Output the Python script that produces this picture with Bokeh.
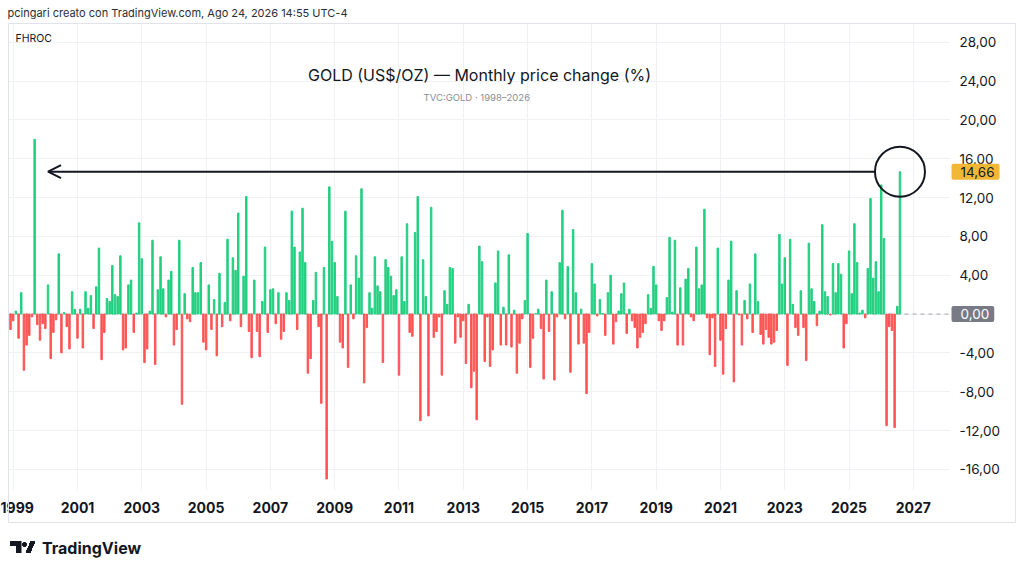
from bokeh.plotting import figure
from bokeh.models import (Range1d, FixedTicker, Label, Span, Arrow, OpenHead,
                          ColumnDataSource, InlineStyleSheet)
from bokeh.embed import file_html
from bokeh.resources import INLINE

# ---------------- data: monthly % change of gold -------------
chg_1998 = [-1.6]  # December only
chg_1999 = [-0.7, 0.3, -2.5, 2.2, -5.8, -3.2, -2.2, -0.3, 18.0, -1.1, -2.7, -1.0]
chg_2000 = [-1.5, 3.0, -4.6, -1.9, -0.6, 6.2, -4.0, 0.15, -1.3, -3.6, 2.3, 0.5]
chg_2001 = [-2.5, 0.5, -3.5, 2.3, 0.6, 1.9, -1.5, 2.8, 6.8, -4.7, -1.9, 1.6]
chg_2002 = [1.3, 5.0, 2.0, 1.8, 6.0, -3.7, -3.5, 3.0, 3.5, -1.9, 0.1, 9.4]
chg_2003 = [5.7, -5.0, -3.6, 0.3, 7.6, -5.2, 2.5, 5.9, 2.6, -0.3, 3.5, 4.4]
chg_2004 = [-3.2, -1.6, 7.6, -9.3, 2.1, -0.5, -0.8, 4.8, 2.2, 2.2, 5.3, -2.9]
chg_2005 = [-3.7, 3.0, -1.6, 1.5, -4.3, 4.2, -1.3, 1.2, 7.7, -0.7, 5.8, 4.5]
chg_2006 = [10.4, -1.3, 3.9, 12.1, -1.8, -4.5, 3.5, -1.8, -4.4, 1.3, 6.9, -1.9]
chg_2007 = [2.5, 2.6, -1.0, 2.2, -2.6, -1.8, 2.2, 1.4, 10.6, 6.9, -1.6, 6.4]
chg_2008 = [10.9, 5.3, -6.1, -4.6, 1.4, 4.3, -1.3, -9.2, 4.8, -17.0, 13.1, 7.5]
chg_2009 = [5.3, 1.8, -2.9, -3.5, 10.6, -5.5, 3.0, -0.5, 6.0, 3.7, 12.9, -7.1]
chg_2010 = [-1.4, 2.2, 0.6, 5.9, 2.9, 2.3, -5.0, 5.6, 4.8, 3.9, 1.9, 2.5]
chg_2011 = [-6.3, 5.9, 1.3, 9.3, -1.9, -2.3, 8.4, 12.1, -11.0, 5.6, 1.8, -10.5]
chg_2012 = [11.0, -2.4, -1.8, -0.3, -6.3, 2.4, 1.0, 4.8, 4.7, -3.0, -0.3, -2.4]
chg_2013 = [-0.7, -5.1, 1.0, -7.6, -5.9, -10.9, 7.0, 5.4, -4.9, -0.3, -5.4, -3.7]
chg_2014 = [3.2, 6.5, -3.2, 0.7, -3.2, 6.1, -3.4, 0.4, -6.1, -3.0, -0.5, 1.4]
chg_2015 = [8.3, -5.5, -2.5, 0.05, 0.5, -1.5, -6.7, 3.5, -1.8, 2.3, -6.8, -0.3]
chg_2016 = [5.3, 10.7, -0.5, 4.9, -6.0, 8.7, 2.2, -3.1, 0.5, -3.0, -8.2, -1.9]
chg_2017 = [5.2, 3.1, -0.2, 1.5, 0.05, -2.2, 2.2, 4.0, -3.1, -0.8, 0.3, 2.1]
chg_2018 = [3.2, -2.0, 0.5, -0.7, -1.4, -3.5, -2.4, -1.9, -1.0, 2.0, 0.6, 4.9]
chg_2019 = [3.0, -0.7, -1.7, -0.7, 1.7, 7.9, 0.2, 7.6, -3.2, 2.7, -3.2, 3.6]
chg_2020 = [4.7, -0.3, -0.7, 6.9, 2.6, 3.0, 10.8, -0.4, -4.2, -0.4, -5.4, 6.8]
chg_2021 = [-2.7, -6.2, -1.5, 3.5, 7.5, -7.0, 2.4, -0.1, -3.2, 1.4, -0.5, 3.1]
chg_2022 = [-1.9, 6.2, 1.3, -2.1, -3.1, -1.6, -2.4, -3.1, -2.9, -1.7, 8.2, 3.1]
chg_2023 = [5.8, -5.3, 7.7, 1.0, -1.4, -2.2, 2.4, -1.4, -4.8, 7.3, 2.6, 1.3]
chg_2024 = [-1.2, 0.3, 9.2, 2.3, 1.8, -0.1, 5.2, 2.2, 5.2, 4.1, -3.5, -1.0]
chg_2025 = [6.5, 2.1, 9.3, 5.3, 0.1, 0.4, -0.4, 4.7, 11.9, 3.7, 5.4, 2.3]
chg_2026 = [13.3, 7.8, -11.5, -1.3, -1.7, -11.7, 0.8, 14.66]  # Jan..Aug

years = list(range(1999, 2027))
yearly = [chg_1999, chg_2000, chg_2001, chg_2002, chg_2003, chg_2004, chg_2005,
          chg_2006, chg_2007, chg_2008, chg_2009, chg_2010, chg_2011, chg_2012,
          chg_2013, chg_2014, chg_2015, chg_2016, chg_2017, chg_2018, chg_2019,
          chg_2020, chg_2021, chg_2022, chg_2023, chg_2024, chg_2025, chg_2026]

tick_years = list(range(1999, 2028, 2))
y_ticks = list(range(-16, 29, 4))

last_label = "14,66"
zero_label = "0,00"

# months counted from Jan 1999 (= 0); Dec 1998 = -1
months = [-1] + [12 * (y - 1999) + i for y, vals in zip(years, yearly) for i in range(len(vals))]
values = chg_1998 + [v for vals in yearly for v in vals]

GREEN = "#22cf80"
RED = "#ff5454"
TXT = "#131722"
colors = [GREEN if v >= 0 else RED for v in values]

# ---------------- figure geometry (page pixels) ----------------
W, H = 1024, 574
FRAME_L, FRAME_R, FRAME_T, FRAME_B = 8, 950, 23, 490
X0, X1 = -1.754, 349.86
Y0, Y1 = -18.18, 29.93
PXM = (FRAME_R - FRAME_L) / (X1 - X0)
PXU = (FRAME_B - FRAME_T) / (Y1 - Y0)


def dx(px):
    return X0 + (px - FRAME_L) / PXM


def dy(py):
    return Y0 + (FRAME_B - py) / PXU


# outer chart box and TradingView logo mark (page decoration, drawn with CSS)
deco = InlineStyleSheet(css="""
:host::after {
  content: ""; position: absolute; left: 8px; top: 23px; width: 1006px; height: 498px;
  border: 1px solid #e0e3eb; pointer-events: none; z-index: 5;
}
:host::before {
  content: ""; position: absolute; left: 10px; top: 541px; width: 26px; height: 12px;
  pointer-events: none; z-index: 5;
  background:
    linear-gradient(#131722, #131722) 0px 0px / 11px 5px no-repeat,
    linear-gradient(#131722, #131722) 5.5px 0px / 5.5px 12px no-repeat,
    radial-gradient(circle at 2.5px 2.5px, #131722 2.2px, transparent 2.6px) 12px 0.5px / 5px 5px no-repeat,
    linear-gradient(112.6deg, transparent 34%, #131722 34%, #131722 66%, transparent 66%) 15px 0px / 11px 12px no-repeat;
}
""")

p = figure(width=W, height=H, output_backend="svg", toolbar_location=None, title=None,
           x_range=Range1d(X0, X1), y_range=Range1d(Y0, Y1), y_axis_location="right",
           min_border_left=FRAME_L, min_border_right=W - FRAME_R,
           min_border_top=FRAME_T, min_border_bottom=H - FRAME_B,
           stylesheets=[deco])
p.outline_line_color = None
p.background_fill_color = "white"
p.border_fill_color = "white"

# grid
p.xgrid.ticker = FixedTicker(ticks=[12 * (y - 1999) for y in tick_years])
p.ygrid.ticker = FixedTicker(ticks=y_ticks)
p.xgrid.grid_line_color = "#f0f1f4"
p.ygrid.grid_line_color = "#f0f1f4"

# axes
xa = p.xaxis[0]
xa.ticker = FixedTicker(ticks=[12 * (y - 1999) for y in tick_years])
xa.major_label_overrides = {12 * (y - 1999): str(y) for y in tick_years}
xa.axis_line_color = None
xa.major_tick_line_color = None
xa.minor_tick_line_color = None
xa.major_tick_out = 0
xa.major_label_standoff = 11
xa.major_label_text_font = "Inter"
xa.major_label_text_font_size = "14px"
xa.major_label_text_font_style = "bold"
xa.major_label_text_color = TXT

ya = p.yaxis[0]
ya.ticker = FixedTicker(ticks=y_ticks)
ya.major_label_overrides = {t: ("" if t == 0 else f"{t},00") for t in y_ticks}
ya.axis_line_color = None
ya.major_tick_line_color = None
ya.minor_tick_line_color = None
ya.major_tick_out = 0
ya.major_label_standoff = 9
ya.major_label_text_font = "Inter"
ya.major_label_text_font_size = "13.5px"
ya.major_label_text_color = TXT

# zero line
zero = Span(location=0, dimension="width", line_color="#a3a6af", line_dash="4 4", line_width=1)
zero.level = "underlay"
p.add_layout(zero)

# bars
src = ColumnDataSource(dict(x=months, top=values, color=colors))
p.vbar(x="x", top="top", bottom=0, width=0.55, color="color", source=src)

# highlight of last bar and arrow back to the 1999 spike
last_x, last_v = months[-1], values[-1]
spike_i = max(range(len(values)), key=lambda i: values[i])
p.scatter(x=[last_x], y=[last_v], marker="circle", size=50, fill_color=None,
          line_color=TXT, line_width=2)
p.add_layout(Arrow(end=OpenHead(size=13, line_width=2, line_color=TXT),
                   x_start=last_x - 25 / PXM, y_start=last_v,
                   x_end=months[spike_i] + 5, y_end=last_v,
                   line_color=TXT, line_width=2))

# texts inside the pane
p.add_layout(Label(x=dx(479), y=dy(74), text="GOLD (US$/OZ) — Monthly price change (%)",
                   text_align="center", text_baseline="middle", text_font="Inter",
                   text_font_size="16px", text_color=TXT))
p.add_layout(Label(x=dx(479), y=dy(96.5), text="TVC:GOLD  ·  1998–2026",
                   text_align="center", text_baseline="middle", text_font="Inter",
                   text_font_size="9.5px", text_color="#8a8d96"))
p.add_layout(Label(x=dx(15), y=dy(37.5), text="FHROC", text_align="left",
                   text_baseline="middle", text_font="Inter", text_font_size="10.5px",
                   text_color=TXT))

# price tags on the right scale (side-panel labels are not clipped to the frame)
p.add_layout(Label(x=dx(951), y=last_v, text=last_label, text_align="left",
                   text_baseline="middle", text_font="Inter", text_font_size="13.5px",
                   text_color=TXT, background_fill_color="#f2b737", background_fill_alpha=1,
                   padding=dict(left=9, right=5, top=3, bottom=3), border_radius=2,
                   level="overlay"), "below")
p.add_layout(Label(x=dx(951), y=0, text=zero_label, text_align="left",
                   text_baseline="middle", text_font="Inter", text_font_size="13.5px",
                   text_color="white", background_fill_color="#787b86", background_fill_alpha=1,
                   padding=dict(left=9, right=5, top=3, bottom=3), border_radius=2,
                   level="overlay"), "below")

# header and footer
p.add_layout(Label(x=dx(7), y=dy(12.5),
                   text="pcingari creato con TradingView.com, Ago 24, 2026 14:55 UTC-4",
                   text_align="left", text_baseline="middle", text_font="Inter",
                   text_font_size="11px", text_color="#2a2e39"), "above")
p.add_layout(Label(x=dx(41.5), y=dy(547), text="TradingView", text_align="left",
                   text_baseline="middle", text_font="Inter", text_font_size="16px",
                   text_font_style="bold", text_color=TXT), "below")

open("out.html", "w").write(file_html(p, INLINE))
